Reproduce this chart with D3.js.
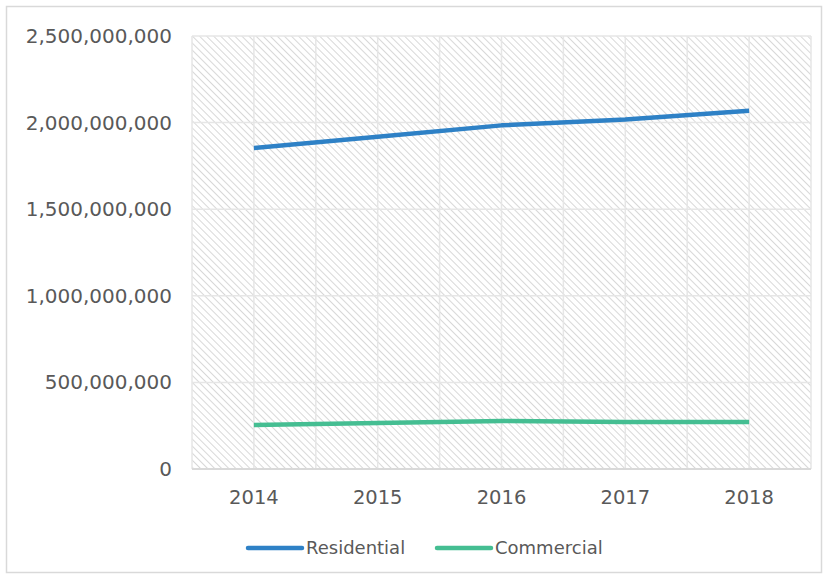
<!DOCTYPE html>
<html>
<head>
<meta charset="utf-8">
<script src="https://cdn.jsdelivr.net/npm/d3@7.9.0/dist/d3.min.js"></script>
<style>
  body { margin: 0; background: #fff; }
  text { font-family: "DejaVu Sans", sans-serif; fill: #595959; }
</style>
</head>
<body>
<svg id="chart" width="828" height="579"></svg>
<script>
const years = ['2014', '2015', '2016', '2017', '2018'];
const residential = [1853000000, 1918000000, 1984000000, 2018000000, 2068000000];
const commercial = [254000000, 266000000, 277000000, 271000000, 271000000];
const yTicks = [0, 500000000, 1000000000, 1500000000, 2000000000, 2500000000];

const series = [
  { name: 'Residential', values: residential, color: '#2E81C6' },
  { name: 'Commercial', values: commercial, color: '#45BE92' }
];

const svg = d3.select('#chart');
const margin = { left: 192, right: 17, top: 36, bottom: 110 };
const W = 828, H = 579;

// outer frame
svg.append('rect')
  .attr('x', 6.5).attr('y', 6.5)
  .attr('width', W - 13).attr('height', H - 13)
  .attr('fill', '#fff').attr('stroke', '#d9d9d9').attr('stroke-width', 1.5);

// hatch pattern (wide downward diagonal)
const defs = svg.append('defs');
const pat = defs.append('pattern')
  .attr('id', 'hatch')
  .attr('patternUnits', 'userSpaceOnUse')
  .attr('width', 5).attr('height', 5)
  .attr('patternTransform', 'rotate(-45)');
pat.append('rect').attr('width', 5).attr('height', 5).attr('fill', '#fff');
pat.append('line')
  .attr('x1', 0).attr('y1', 0).attr('x2', 0).attr('y2', 5)
  .attr('stroke', '#d8d8d8').attr('stroke-width', 2);

const x = d3.scalePoint()
  .domain(years)
  .range([margin.left, W - margin.right])
  .padding(0.5);

const y = d3.scaleLinear()
  .domain([0, 2500000000])
  .range([H - margin.bottom, margin.top]);

const x0 = margin.left, x1 = W - margin.right;
const step = x.step();

// plot background
svg.append('rect')
  .attr('x', x0).attr('y', y(2500000000))
  .attr('width', x1 - x0).attr('height', y(0) - y(2500000000))
  .attr('fill', 'url(#hatch)');

// vertical gridlines: category boundaries and centres
const vLines = d3.range(0, years.length * 2 + 1).map(i => x0 + i * step / 2);
svg.append('g').selectAll('line').data(vLines).join('line')
  .attr('x1', d => d).attr('x2', d => d)
  .attr('y1', y(2500000000)).attr('y2', y(0))
  .attr('stroke', '#e6e6e6').attr('stroke-width', 1.5);

// horizontal gridlines
svg.append('g').selectAll('line').data(yTicks.slice(1)).join('line')
  .attr('x1', x0).attr('x2', x1)
  .attr('y1', d => y(d)).attr('y2', d => y(d))
  .attr('stroke', '#e6e6e6').attr('stroke-width', 1.5);

// x axis line
svg.append('line')
  .attr('x1', x0).attr('x2', x1)
  .attr('y1', y(0)).attr('y2', y(0))
  .attr('stroke', '#d9d9d9').attr('stroke-width', 2);

// y tick labels
const fmt = d3.format(',');
svg.append('g').selectAll('text').data(yTicks).join('text')
  .attr('x', 172).attr('y', d => y(d))
  .attr('dy', '0.35em')
  .attr('text-anchor', 'end')
  .attr('font-size', 20)
  .text(d => fmt(d));

// x tick labels
svg.append('g').selectAll('text').data(years).join('text')
  .attr('x', d => x(d)).attr('y', 497)
  .attr('dy', '0.35em')
  .attr('text-anchor', 'middle')
  .attr('font-size', 19.5)
  .text(d => d);

// lines
const line = d3.line()
  .x((d, i) => x(years[i]))
  .y(d => y(d));

svg.append('g').selectAll('path').data(series).join('path')
  .attr('d', d => line(d.values))
  .attr('fill', 'none')
  .attr('stroke', d => d.color)
  .attr('stroke-width', 4.5)
  .attr('stroke-linejoin', 'round');

// legend
const legendPos = [248, 437];
const lg = svg.append('g').selectAll('g').data(series).join('g')
  .attr('transform', (d, i) => `translate(${legendPos[i]},548)`);
lg.append('line')
  .attr('x1', 0).attr('x2', 54)
  .attr('stroke', d => d.color).attr('stroke-width', 4.5)
  .attr('stroke-linecap', 'round');
lg.append('text')
  .attr('x', 58).attr('dy', '0.35em')
  .attr('font-size', 18)
  .text(d => d.name);
</script>
</body>
</html>
